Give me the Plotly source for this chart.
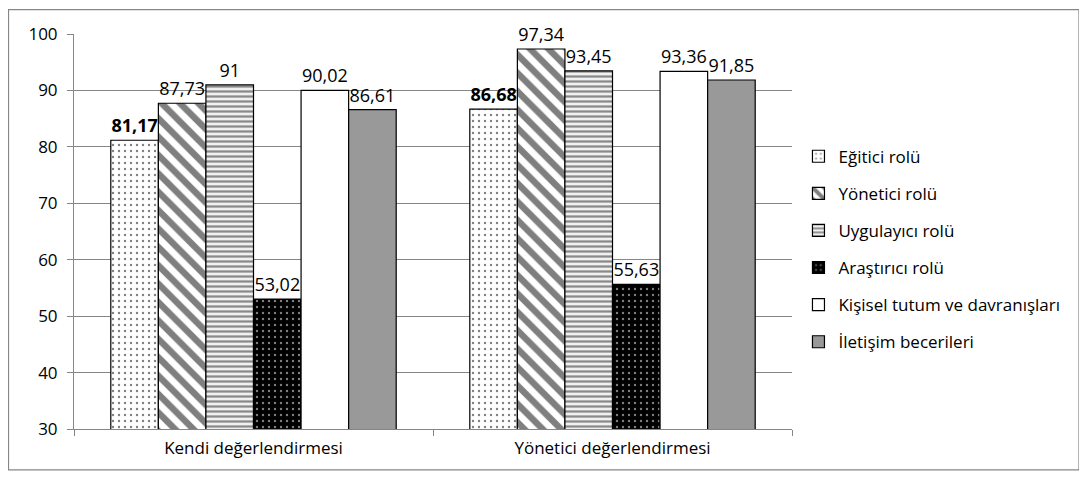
import plotly.graph_objects as go

categories = ["Kendi değerlendirmesi", "Yönetici değerlendirmesi"]
series_names = ["Eğitici rolü", "Yönetici rolü", "Uygulayıcı rolü", "Araştırıcı rolü",
                "Kişisel tutum ve davranışları", "İletişim becerileri"]
values = [
    [81.17, 86.68],
    [87.73, 97.34],
    [91.00, 93.45],
    [53.02, 55.63],
    [90.02, 93.36],
    [86.61, 91.85],
]
labels = [
    ["<b>81,17</b>", "<b>86,68</b>"],
    ["87,73", "97,34"],
    ["91", "93,45"],
    ["53,02", "55,63"],
    ["90,02", "93,36"],
    ["86,61", "91,85"],
]
y_ticks = [30, 40, 50, 60, 70, 80, 90, 100]

styles = [
    dict(color="white", pattern=dict(shape=".", fgcolor="black", bgcolor="white", size=6, solidity=0.12)),
    dict(color="white", pattern=dict(shape="\\", fgcolor="black", bgcolor="white", size=13, solidity=0.5)),
    dict(color="white", pattern=dict(shape="-", fgcolor="#222222", bgcolor="#f0f0f0", size=5, solidity=0.45)),
    dict(color="black", pattern=dict(shape=".", fgcolor="white", bgcolor="black", size=6, solidity=0.12)),
    dict(color="white"),
    dict(color="#999999"),
]

FONT = "Open Sans, Lato, sans-serif"

fig = go.Figure()
for i, name in enumerate(series_names):
    st = styles[i]
    marker = dict(color=st["color"], line=dict(color="black", width=1.2))
    if "pattern" in st:
        marker["pattern"] = st["pattern"]
    fig.add_trace(go.Bar(
        x=categories, y=values[i], name=name, text=labels[i],
        textposition="outside", texttemplate="%{text}",
        textfont=dict(size=18, color="black", family=FONT), cliponaxis=False,
        marker=marker, legendgroup=str(i),
    ))

fig.update_layout(
    width=1087, height=495,
    margin=dict(l=66, r=303, t=26, b=74),
    paper_bgcolor="white", plot_bgcolor="white",
    barmode="group", bargap=0.205, bargroupgap=0,
    font=dict(family=FONT, size=17, color="black"),
    legend=dict(x=1.009, y=0.735, xanchor="left", yanchor="top",
                traceorder="grouped", tracegroupgap=12,
                font=dict(size=17, family=FONT), bgcolor="rgba(0,0,0,0)"),
    xaxis=dict(showline=True, linecolor="#868686", ticks="outside", tickson="boundaries",
               ticklen=6, tickcolor="#868686", tickfont=dict(size=17), ticklabelstandoff=4),
    yaxis=dict(range=[30, 100], tickvals=y_ticks, showgrid=True, gridcolor="#868686",
               showline=True, linecolor="#868686", ticks="outside", ticklen=6,
               tickcolor="#868686", tickfont=dict(size=17), zeroline=False,
               ticklabelstandoff=6),
    shapes=[dict(type="rect", xref="paper", yref="paper",
                 x0=-0.0912, x1=1.3997, y0=-0.1035, y1=1.0619,
                 line=dict(color="#868686", width=1.2))],
)

fig.write_html("out.html")
